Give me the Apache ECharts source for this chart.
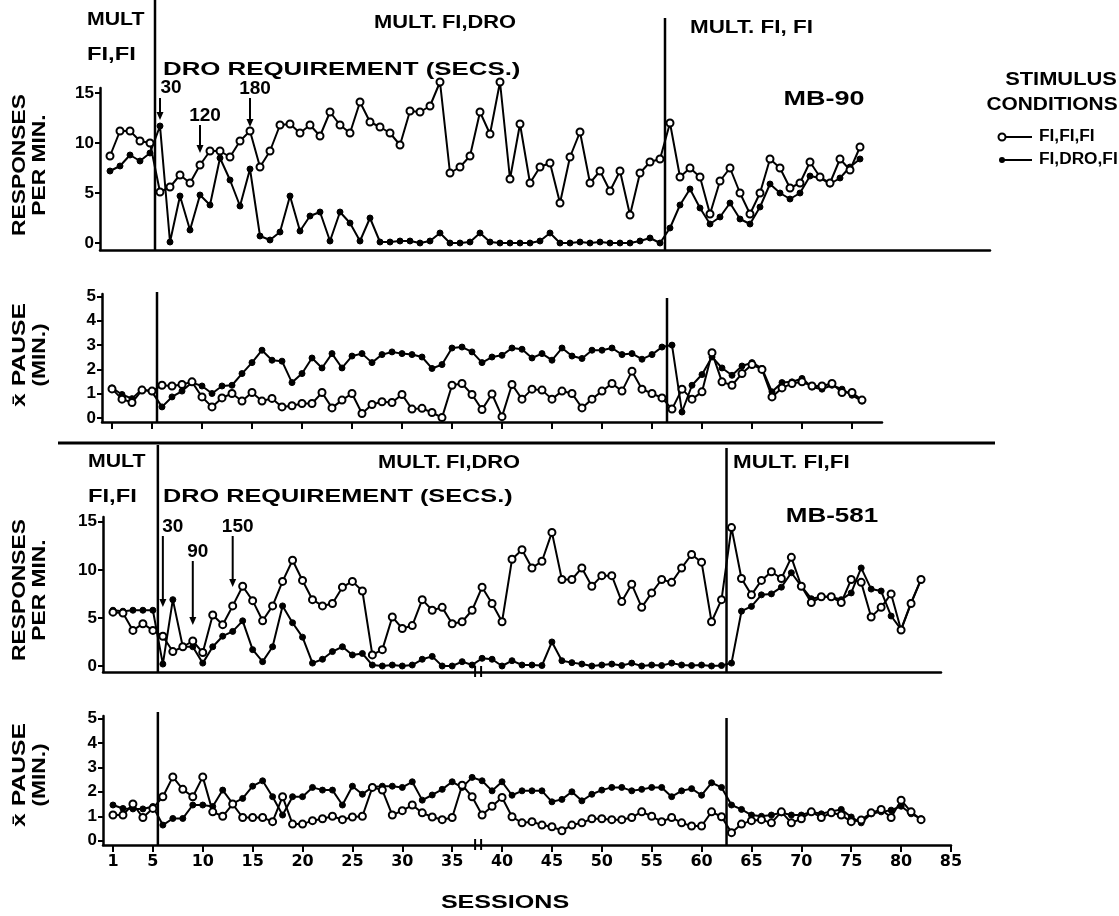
<!DOCTYPE html>
<html><head><meta charset="utf-8">
<script src="https://cdn.jsdelivr.net/npm/echarts@6/dist/echarts.min.js"></script>
<style>html,body{margin:0;padding:0;background:#fff}#c{width:1119px;height:916px}</style>
</head><body><div id="c"></div>
<script>
// ---------------- DATA ----------------
const LEGEND_NAMES = ['FI,FI,FI', 'FI,DRO,FI'];
// MB-90 (sessions 1..76)
const MB90_RESP_FIFIFI = [8.7,11.2,11.2,10.2,10.0, 5.1,5.6,6.8,6.0,7.8, 9.2,9.2,8.6,10.2,11.2, 7.6,9.2,11.8,11.9,11.0, 11.8,10.7,13.1,11.8,11.0, 14.1,12.1,11.6,11.0,9.8, 13.2,13.1,13.7,16.1,7.0, 7.6,8.7,13.1,10.9,16.1, 6.4,11.9,6.0,7.6,8.0, 4.0,8.6,11.1,6.0,7.2, 5.2,7.2,2.8,7.0,8.1, 8.4,12.0,6.6,7.5,6.6, 2.9,6.2,7.5,5.0,2.9, 5.0,8.4,7.5,5.5,6.0, 8.1,6.6,6.0,8.4,7.3, 9.6];
const MB90_RESP_FIDROFI = [7.2,7.7,8.8,8.2,9.0, 11.7,0.1,4.7,1.3,4.8, 3.8,8.5,6.3,3.7,7.4, 0.7,0.3,1.1,4.7,1.2, 2.7,3.1,0.2,3.1,2.0, 0.2,2.5,0.1,0.1,0.2, 0.2,0.0,0.2,1.0,0.0, 0.0,0.1,1.0,0.1,0.0, 0.0,0.0,0.0,0.2,1.0, 0.0,0.0,0.1,0.0,0.1, 0.0,0.0,0.0,0.2,0.5, 0.0,1.5,3.8,5.4,3.5, 1.9,2.6,4.0,2.4,1.9, 3.6,5.9,5.0,4.4,5.0, 6.7,6.5,5.9,6.5,7.6, 8.4];
const MB90_PAUSE_FIFIFI = [1.2,0.78,0.64,1.15,1.11, 1.35,1.32,1.38,1.49,0.87, 0.46,0.83,1.01,0.70,1.05, 0.70,0.81,0.46,0.51,0.60, 0.60,1.05,0.42,0.74,1.01, 0.19,0.56,0.67,0.64,0.97, 0.37,0.40,0.23,0.02,1.35, 1.42,0.97,0.35,0.99,0.06, 1.38,0.78,1.19,1.15,0.78, 1.11,1.01,0.42,0.78,1.11, 1.42,1.11,1.93,1.19,1.01, 0.83,0.37,1.19,0.78,1.08, 2.69,1.49,1.35,1.83,2.2, 2.0,0.87,1.24,1.42,1.49, 1.32,1.32,1.42,1.05,1.05, 0.74];
const MB90_PAUSE_FIDROFI = [1.24,0.97,0.8,1.19,1.08, 0.46,0.87,1.11,1.46,1.32, 1.01,1.32,1.35,1.83,2.28, 2.79,2.38,2.34,1.46,1.83, 2.47,2.06,2.65,2.06,2.55, 2.65,2.28,2.61,2.72,2.65, 2.61,2.51,2.04,2.2,2.88, 2.92,2.72,2.28,2.51,2.58, 2.88,2.83,2.47,2.65,2.38, 2.88,2.55,2.45,2.79,2.79, 2.88,2.61,2.65,2.42,2.61, 2.92,3.0,0.25,1.35,1.79, 2.51,2.06,1.76,2.14,2.28, 2.04,1.08,1.46,1.49,1.63, 1.28,1.19,1.35,1.19,0.94, 0.70];
// MB-581 (sessions 1..82)
const MB581_RESP_FIFIFI = [5.6,5.5,3.7,4.4,3.7, 3.1,1.5,2.0,2.6,1.4, 5.3,4.3,6.25,8.3,6.8, 4.7,6.25,8.8,11.0,8.9, 6.9,6.25,6.5,8.2,8.8, 7.8,1.15,1.7,5.1,3.9, 4.2,6.9,5.8,6.1,4.4, 4.6,5.8,8.2,6.5,4.6, 11.1,12.1,10.2,10.9,13.9, 9.0,9.0,10.2,8.3,9.4, 9.4,6.7,8.5,6.1,7.6, 9.0,8.7,10.2,11.6,10.8, 4.6,6.9,14.4,9.1,7.4, 8.9,9.8,9.1,11.3,8.3, 6.6,7.2,7.2,6.6,9.0, 8.7,5.1,6.1,7.5,3.75, 6.5,9.0];
const MB581_RESP_FIDROFI = [5.8,5.7,5.8,5.8,5.8, 0.2,6.9,2.0,2.0,0.3, 2.0,3.1,3.6,4.7,1.7, 0.45,2.0,6.25,4.5,3.0, 0.3,0.7,1.5,2.0,1.15, 1.3,0.1,0.0,0.1,0.0, 0.1,0.7,1.0,0.0,0.0, 0.45,0.1,0.8,0.7,0.0, 0.55,0.1,0.1,0.05,2.5, 0.55,0.35,0.2,0.0,0.1, 0.2,0.05,0.3,0.0,0.1, 0.05,0.3,0.1,0.05,0.1, 0.0,0.05,0.3,5.7,6.2, 7.4,7.5,8.2,9.7,8.3, 7.0,7.2,7.2,6.9,7.6, 10.2,8.0,7.8,5.2,3.8, 6.6,9.0];
const MB581_PAUSE_FIFIFI = [1.05,1.05,1.5,0.95,1.32, 1.8,2.61,2.1,1.8,2.61, 1.18,1.0,1.5,0.95,0.95, 0.95,0.78,1.8,0.68,0.68, 0.82,0.9,1.0,0.86,0.97, 1.0,2.18,2.07,1.05,1.23, 1.46,1.14,0.97,0.86,0.95, 2.27,1.8,1.05,1.41,1.77, 0.98,0.73,0.78,0.64,0.57, 0.41,0.64,0.73,0.9,0.9, 0.86,0.86,0.95,1.18,1.0, 0.78,0.95,0.73,0.6,0.6, 1.18,0.98,0.33,0.68,0.82, 0.86,0.73,1.18,0.73,0.9, 1.18,0.95,1.14,1.05,0.78, 0.85,1.14,1.28,0.95,1.66, 1.18,0.86];
const MB581_PAUSE_FIDROFI = [1.46,1.32,1.3,1.3,1.4, 0.64,0.91,0.91,1.46,1.46, 1.4,2.07,1.52,1.73,2.23, 2.45,1.8,1.05,1.8,1.8, 2.18,2.07,2.07,1.46,2.23, 1.9,2.2,2.23,2.23,2.18, 2.41,1.66,1.87,2.1,2.41, 2.18,2.59,2.45,2.04,2.41, 1.86,2.04,2.04,2.04,1.59, 1.69,2.0,1.63,1.9,2.07, 2.18,2.18,2.04,2.1,2.18, 2.18,1.8,2.04,2.13,1.86, 2.37,2.18,1.46,1.28,1.05, 1.0,1.05,1.14,1.05,1.05, 1.18,1.1,1.2,1.28,0.97, 0.73,1.1,1.18,1.25,1.41, 1.1,0.9];
// phase boundaries (sessions)
const MB90_PHASES = [5.5, 56.5];
const MB581_PHASES = [5.5, 62.5];
// DRO requirement arrows: session and label
const MB90_DRO = [[6, '30'], [10, '120'], [15, '180']];
const MB581_DRO = [[6, '30'], [9, '90'], [13, '150']];
// tick labels
const RESP_TICKS = [0, 5, 10, 15];
const PAUSE_TICKS = [0, 1, 2, 3, 4, 5];
const SESSION_TICKS = [1, 5, 10, 15, 20, 25, 30, 35, 40, 45, 50, 55, 60, 65, 70, 75, 80, 85];
const MB90_PAUSE_TICKS = [1, 5, 10, 15, 20, 25, 30, 35, 40, 45, 50, 55, 60, 65, 70, 75];

// ---------------- CHART ----------------
const FONT = 'Liberation Sans';
const NUMFONT = 'DejaVu Sans';
const chart = echarts.init(document.getElementById('c'), null, {renderer: 'canvas'});
const toXY = arr => arr.map((v, i) => [i + 1, v]);

function yAxis(gi, min, max, ticks) {
  return {
    gridIndex: gi, type: 'value', min: min, max: max,
    splitLine: {show: false},
    axisLine: {show: true, lineStyle: {color: '#000', width: 2.5}},
    axisTick: {show: true, length: 5, lineStyle: {color: '#000', width: 2}, customValues: ticks},
    axisLabel: {show: true, customValues: ticks, color: '#000', fontFamily: FONT, fontWeight: 'bold', fontSize: 17, margin: 6}
  };
}
function xAxis(gi, max, ticks, labels) {
  return {
    gridIndex: gi, type: 'value', min: 0, max: max,
    splitLine: {show: false},
    axisLine: {show: true, onZero: false, lineStyle: {color: '#000', width: 2.5}},
    axisTick: {show: !!ticks, length: 7, lineStyle: {color: '#000', width: 2}, customValues: ticks || []},
    axisLabel: {show: !!labels, customValues: ticks || [], color: '#000', fontFamily: NUMFONT, fontWeight: 'bold', fontSize: 16, margin: 9}
  };
}
function ser(name, arr, gi, open) {
  return {
    name: name, type: 'line', xAxisIndex: gi, yAxisIndex: gi,
    data: toXY(arr), showAllSymbol: true, symbol: 'circle',
    symbolSize: open ? 7 : 6, clip: false, z: open ? 3 : 2,
    lineStyle: {color: '#000', width: 2},
    itemStyle: open ? {color: '#fff', borderColor: '#000', borderWidth: 2} : {color: '#000', borderColor: '#000', borderWidth: 1}
  };
}

chart.setOption({
  animation: false,
  backgroundColor: '#fff',
  grid: [
    {left: 100, top: 88, width: 890, height: 162},
    {left: 102, top: 294, width: 780, height: 128},
    {left: 103, top: 517, width: 838, height: 155},
    {left: 103, top: 716, width: 848, height: 129}
  ],
  xAxis: [
    xAxis(0, 89, null, false),
    xAxis(1, 78, MB90_PAUSE_TICKS, false),
    xAxis(2, 84, null, false),
    xAxis(3, 85, SESSION_TICKS, true)
  ],
  yAxis: [
    yAxis(0, -0.7, 15.5, RESP_TICKS),
    yAxis(1, -0.16, 5.1, PAUSE_TICKS),
    yAxis(2, -0.625, 15.5, RESP_TICKS),
    yAxis(3, -0.175, 5.1, PAUSE_TICKS)
  ],
  series: [
    ser(LEGEND_NAMES[1], MB90_RESP_FIDROFI, 0, false),
    ser(LEGEND_NAMES[0], MB90_RESP_FIFIFI, 0, true),
    ser(LEGEND_NAMES[1], MB90_PAUSE_FIDROFI, 1, false),
    ser(LEGEND_NAMES[0], MB90_PAUSE_FIFIFI, 1, true),
    ser(LEGEND_NAMES[1], MB581_RESP_FIDROFI, 2, false),
    ser(LEGEND_NAMES[0], MB581_RESP_FIFIFI, 2, true),
    ser(LEGEND_NAMES[1], MB581_PAUSE_FIDROFI, 3, false),
    ser(LEGEND_NAMES[0], MB581_PAUSE_FIFIFI, 3, true)
  ]
});

// ---------------- ANNOTATIONS ----------------
const G = [];
const px = (gi, x, y) => chart.convertToPixel({gridIndex: gi}, [x, y || 0]);
function txt(t, x, y, size, opts) {
  opts = opts || {};
  G.push({type: 'text', x: x, y: y, rotation: opts.rot || 0, scaleX: opts.sx || 1, scaleY: 1, silent: true,
    style: {text: t, x: 0, y: 0, fill: '#000', fontSize: size, fontWeight: 'bold', fontFamily: opts.font || FONT,
      align: opts.align || 'center', verticalAlign: 'middle'}});
}
function vline(x, y1, y2, w) {
  G.push({type: 'line', silent: true, shape: {x1: x, y1: y1, x2: x, y2: y2}, style: {stroke: '#000', lineWidth: w || 2.5}});
}
function arrow(x, y1, y2) {
  vline(x, y1, y2 - 5, 2);
  G.push({type: 'polygon', silent: true, shape: {points: [[x - 3.5, y2 - 8], [x + 3.5, y2 - 8], [x, y2]]}, style: {fill: '#000'}});
}
// phase lines
const bottomOf = [250, 422, 672, 845];
const phaseTops = [[0, 18], [292, 298], [445, 448], [712, 718]];
[[0, MB90_PHASES], [1, MB90_PHASES], [2, MB581_PHASES], [3, MB581_PHASES]].forEach(([gi, ph]) => {
  ph.forEach((s, k) => vline(px(gi, s)[0], phaseTops[gi][k], bottomOf[gi], 2.5));
});
// axis break marks in the MB-581 panels
[2, 3].forEach(gi => {
  const x = px(gi, 37.6)[0], y = bottomOf[gi];
  G.push({type: 'rect', silent: true, shape: {x: x - 2, y: y - 3, width: 4, height: 6}, style: {fill: '#fff'}});
  vline(x - 3, y - 6, y + 5, 2);
  vline(x + 3, y - 6, y + 5, 2);
});
// DRO arrows
const mb90ArrowY = [[88, 98, 120], [116, 125, 153], [89, 98, 127]];
MB90_DRO.forEach(([s, lab], k) => {
  const x = px(0, s)[0];
  txt(lab, x + (k === 0 ? 11 : 5), mb90ArrowY[k][0], 19);
  arrow(x, mb90ArrowY[k][1], mb90ArrowY[k][2]);
});
const mb581ArrowY = [[527, 536, 607], [552, 561, 625], [527, 536, 587]];
MB581_DRO.forEach(([s, lab], k) => {
  const x = px(2, s)[0];
  txt(lab, x + (k === 0 ? 10 : 5), mb581ArrowY[k][0], 19);
  arrow(x, mb581ArrowY[k][1], mb581ArrowY[k][2]);
});
// headings
txt('MULT', 87, 20, 19, {align: 'left', sx: 1.12});
txt('FI,FI', 87, 55, 19, {align: 'left', sx: 1.25});
txt('MULT.', 374, 23, 19, {align: 'left', sx: 1.15});
txt('FI,DRO', 442, 23, 19, {align: 'left', sx: 1.15});
txt('MULT. FI, FI', 690, 28, 19, {align: 'left', sx: 1.18});
txt('DRO REQUIREMENT (SECS.)', 163, 70, 19, {align: 'left', sx: 1.36});
txt('MB-90', 824, 99, 20, {sx: 1.35});
txt('MULT', 88, 462, 19, {align: 'left', sx: 1.12});
txt('FI,FI', 88, 497, 19, {align: 'left', sx: 1.25});
txt('MULT.', 378, 463, 19, {align: 'left', sx: 1.15});
txt('FI,DRO', 446, 463, 19, {align: 'left', sx: 1.15});
txt('MULT. FI,FI', 733, 463, 19, {align: 'left', sx: 1.18});
txt('DRO REQUIREMENT (SECS.)', 163, 497, 19, {align: 'left', sx: 1.33});
txt('MB-581', 832, 516, 20, {sx: 1.3});
txt('SESSIONS', 505, 903, 19, {sx: 1.32});
// y-axis names
const yNames = [[165, 'RESPONSES', 'PER MIN.'], [355, 'x\u0304 PAUSE', '(MIN.)'], [590, 'RESPONSES', 'PER MIN.'], [775, 'x\u0304 PAUSE', '(MIN.)']];
yNames.forEach(([cy, a, b]) => {
  const sa = a === 'RESPONSES' ? 1.2 : 1.3;
  txt(a, 20, cy, 19, {rot: Math.PI / 2, sx: sa});
  txt(b, 40, cy, 19, {rot: Math.PI / 2, sx: 1.2});
});
// separator
G.push({type: 'line', silent: true, shape: {x1: 58, y1: 443, x2: 995, y2: 443}, style: {stroke: '#000', lineWidth: 3}});
// legend
txt('STIMULUS', 1061, 80, 19, {sx: 1.15});
txt('CONDITIONS', 1052, 105, 19, {sx: 1.1});
LEGEND_NAMES.forEach((n, k) => {
  const y = 137 + k * 23;
  G.push({type: 'line', silent: true, shape: {x1: 1000, y1: y, x2: 1032, y2: y}, style: {stroke: '#000', lineWidth: 2}});
  G.push({type: 'circle', silent: true, shape: {cx: 1002, cy: y, r: k === 0 ? 3.5 : 3},
    style: k === 0 ? {fill: '#fff', stroke: '#000', lineWidth: 2} : {fill: '#000'}});
  txt(n, 1039, y, 16, {align: 'left', sx: 1.08});
});
chart.setOption({graphic: G});
</script>
</body></html>
